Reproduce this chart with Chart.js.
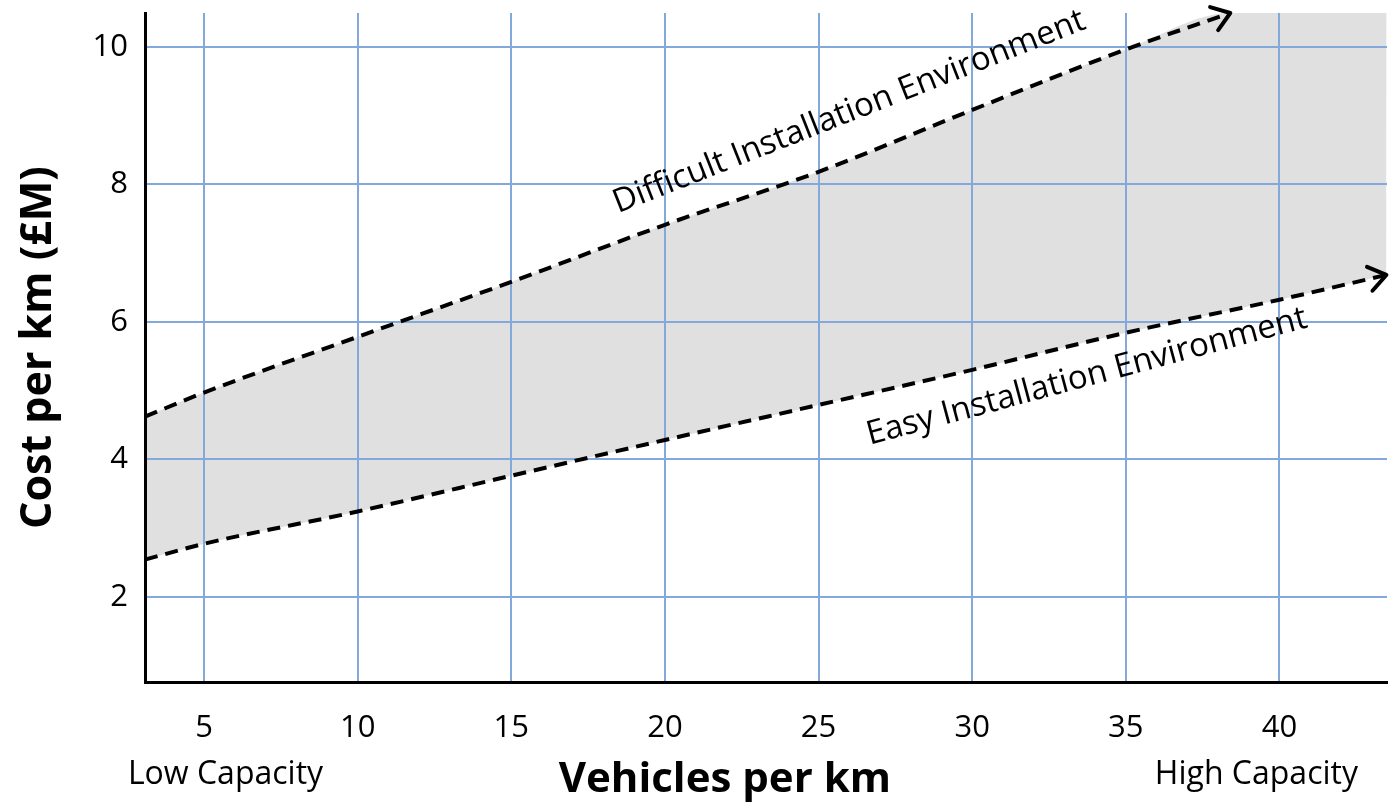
<!DOCTYPE html>
<html lang="en">
<head>
  <meta charset="UTF-8" />
  <title>Cost per km vs vehicles per km</title>
  <script src="https://cdn.jsdelivr.net/npm/chart.js"></script>
  <style>
    body { margin: 0; background: #fff; }
    #wrap { width: 1392px; height: 805px; position: relative; }
  </style>
</head>
<body>
  <div id="wrap"><canvas id="chart"></canvas></div>

  <script>
    // axis ranges and tick labels
    const xTicks = [5, 10, 15, 20, 25, 30, 35, 40];
    const yTicks = [2, 4, 6, 8, 10];
    const xMin = 3.08, xMax = 43.5;
    const yMin = 0.76, yMax = 10.49;

    // difficult installation environment (upper dashed line)
    const difficultX = [3.08, 5, 10, 15, 20, 25, 30, 35, 38.4];
    const difficultY = [4.62, 4.97, 5.78, 6.58, 7.41, 8.18, 9.08, 9.96, 10.49];

    // easy installation environment (lower dashed line)
    const easyX = [3.08, 5, 10, 15, 20, 25, 30, 35, 40, 43.48];
    const easyY = [2.54, 2.77, 3.24, 3.76, 4.28, 4.79, 5.30, 5.84, 6.32, 6.68];

    // top edge of the grey band: the difficult line, then along the top of the plot
    const bandX = difficultX.concat([xMax]);
    const bandY = difficultY.concat([yMax]);

    const lineLabels = [
      { text: "Difficult Installation Environment", x: 26.0, y: 9.05, angle: -21.5 },
      { text: "Easy Installation Environment", x: 33.73, y: 5.2, angle: -15 }
    ];
    const capacityLabels = [
      { text: "Low Capacity", x: 5.7 },
      { text: "High Capacity", x: 39.25 }
    ];
    const xTitle = { text: "Vehicles per km", x: 21.95 };

    const FONT = "'Open Sans', 'DejaVu Sans', sans-serif";
    const gridColor = "#82a9da";

    function toPoints(xs, ys) {
      return xs.map((x, i) => ({ x: x, y: ys[i] }));
    }

    const extras = {
      id: "extras",
      afterDatasetsDraw(chart) {
        const ctx = chart.ctx;
        // open arrow heads at the end of both dashed lines
        [1, 2].forEach(i => {
          const pts = chart.getDatasetMeta(i).data;
          const a = pts[pts.length - 2], b = pts[pts.length - 1];
          const ang = Math.atan2(b.y - a.y, b.x - a.x);
          const len = 21, spread = 0.62;
          ctx.save();
          ctx.strokeStyle = "#000";
          ctx.lineWidth = 4;
          ctx.lineCap = "round";
          ctx.lineJoin = "round";
          ctx.beginPath();
          ctx.moveTo(b.x - len * Math.cos(ang - spread), b.y - len * Math.sin(ang - spread));
          ctx.lineTo(b.x, b.y);
          ctx.lineTo(b.x - len * Math.cos(ang + spread), b.y - len * Math.sin(ang + spread));
          ctx.stroke();
          ctx.restore();
        });
      },
      afterDraw(chart) {
        const ctx = chart.ctx;
        const { x, y } = chart.scales;
        const bottom = chart.chartArea.bottom;
        ctx.save();
        ctx.fillStyle = "#000";
        ctx.textAlign = "center";
        ctx.textBaseline = "middle";

        ctx.font = "33px " + FONT;
        lineLabels.forEach(l => {
          ctx.save();
          ctx.translate(x.getPixelForValue(l.x), y.getPixelForValue(l.y));
          ctx.rotate(l.angle * Math.PI / 180);
          ctx.fillText(l.text, 0, 0);
          ctx.restore();
        });

        ctx.font = "32px " + FONT;
        capacityLabels.forEach(l => {
          ctx.fillText(l.text, x.getPixelForValue(l.x), bottom + 93);
        });

        ctx.font = "bold 42px " + FONT;
        ctx.fillText(xTitle.text, x.getPixelForValue(xTitle.x), bottom + 98);
        ctx.restore();
      }
    };

    const dashed = {
      borderColor: "#000",
      borderWidth: 4,
      borderDash: [13, 8],
      pointRadius: 0,
      fill: false,
      cubicInterpolationMode: "monotone",
      clip: false
    };

    new Chart(document.getElementById("chart"), {
      type: "line",
      data: {
        datasets: [
          {
            label: "band",
            data: toPoints(bandX, bandY),
            borderWidth: 0,
            pointRadius: 0,
            backgroundColor: "#e0e0e0",
            cubicInterpolationMode: "monotone",
            fill: "+1"
          },
          Object.assign({ label: "Easy Installation Environment", data: toPoints(easyX, easyY) }, dashed),
          Object.assign({ label: "Difficult Installation Environment", data: toPoints(difficultX, difficultY) }, dashed)
        ]
      },
      options: {
        responsive: true,
        maintainAspectRatio: false,
        animation: false,
        layout: { padding: { top: 13, right: 5, left: 0, bottom: 0 } },
        plugins: {
          legend: { display: false },
          tooltip: { enabled: false },
          filler: { drawTime: "beforeDraw" }
        },
        scales: {
          x: {
            type: "linear",
            min: xMin,
            max: xMax,
            afterBuildTicks: s => { s.ticks = xTicks.map(v => ({ value: v })); },
            afterFit: s => { s.height = 123; s.paddingLeft = 0; s.paddingRight = 0; },
            grid: { color: gridColor, lineWidth: 2, drawTicks: false },
            border: { color: "#000", width: 3 },
            ticks: { color: "#000", font: { family: FONT, size: 31 }, padding: 28, maxRotation: 0, autoSkip: false }
          },
          y: {
            type: "linear",
            min: yMin,
            max: yMax,
            afterBuildTicks: s => { s.ticks = yTicks.map(v => ({ value: v })); },
            afterFit: s => { s.width = 145; s.paddingTop = 0; s.paddingBottom = 0; },
            grid: { color: gridColor, lineWidth: 2, drawTicks: false },
            border: { color: "#000", width: 3 },
            ticks: { color: "#000", font: { family: FONT, size: 31 }, padding: 17 },
            title: {
              display: true,
              text: "Cost per km (£M)",
              color: "#000",
              font: { family: FONT, size: 43, weight: "bold" },
              padding: { top: 13, bottom: 0 }
            }
          }
        }
      },
      plugins: [extras]
    });
  </script>
</body>
</html>
